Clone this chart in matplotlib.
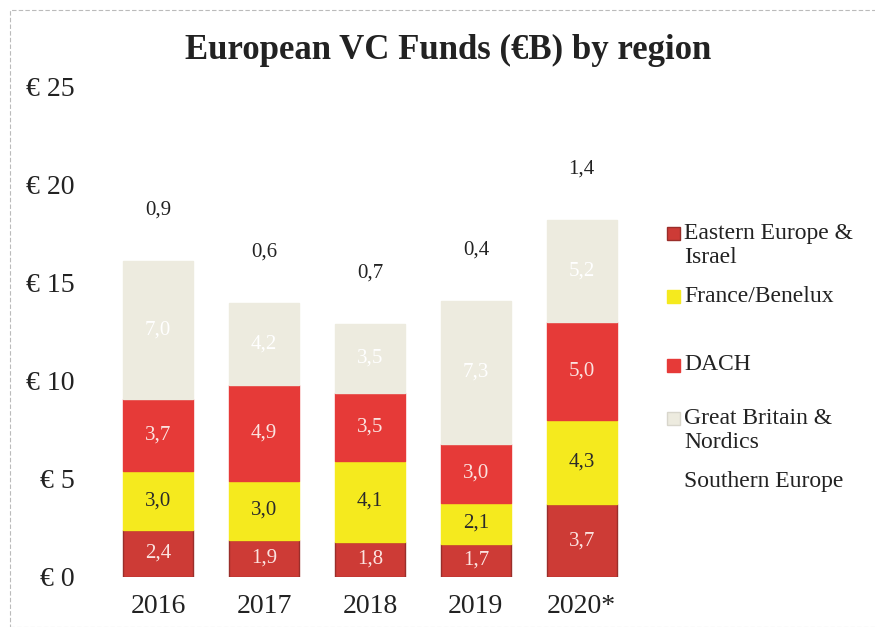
import numpy as np
import matplotlib
matplotlib.use("Agg")
import matplotlib.pyplot as plt
from matplotlib.patches import Rectangle

plt.rcParams['font.family'] = ['Liberation Serif', 'DejaVu Serif']

years = ["2016", "2017", "2018", "2019", "2020*"]
eastern = [2.4, 1.9, 1.8, 1.7, 3.7]
france = [3.0, 3.0, 4.1, 2.1, 4.3]
dach = [3.7, 4.9, 3.5, 3.0, 5.0]
gb_nordics = [7.0, 4.2, 3.5, 7.3, 5.2]
southern = [0.9, 0.6, 0.7, 0.4, 1.4]

series = [eastern, france, dach, gb_nordics]
colors = ["#cd3b36", "#f5ea1e", "#e63a38", "#edebdf"]
edges = ["#9a2e2a", "#f5ea1e", "#e63a38", "#edebdf"]
text_colors = ["#fbe3e0", "#2a2a2a", "#fbe3e0", "#ffffff"]
legend_names = ["Eastern Europe &\nIsrael", "France/Benelux", "DACH",
                "Great Britain &\nNordics", "Southern Europe"]

fig = plt.figure(figsize=(8.75, 6.27), dpi=100)
ax = fig.add_axes([100 / 875, 1 - 577 / 627, 540 / 875, 490 / 627])

x = np.arange(len(years))
bottom = np.zeros(len(years))
for vals, c, ec, tc in zip(series, colors, edges, text_colors):
    vals = np.array(vals)
    ax.bar(x, vals, width=0.66, bottom=bottom, color=c, edgecolor=ec, linewidth=1)
    for xi, b, v in zip(x, bottom, vals):
        ax.text(xi, b + v / 2, f"{v:.1f}".replace(".", ","), ha="center", va="center",
                fontsize=15, color=tc)
    bottom = bottom + vals

# southern europe: invisible segment, value shown above the bar
for xi, b, v in zip(x, bottom, southern):
    ax.text(xi, b + 2.6, f"{v:.1f}".replace(".", ","), ha="center", va="center",
            fontsize=15, color="#222222")

ax.set_xlim(-0.55, 4.55)
ax.set_ylim(0, 25)
ax.set_yticks([0, 5, 10, 15, 20, 25])
ax.set_yticklabels([f"€ {v}" for v in [0, 5, 10, 15, 20, 25]], fontsize=20, color="#222222")
ax.set_xticks(x)
ax.set_xticklabels(years, fontsize=20, color="#222222")
ax.tick_params(axis="both", length=0)
ax.tick_params(axis="y", pad=18)
ax.tick_params(axis="x", pad=12)
for s in ax.spines.values():
    s.set_visible(False)

fig.text(448 / 875, 1 - 50 / 627, "European VC Funds (€B) by region", ha="center", va="center",
         fontsize=25, fontweight="bold", color="#222222")

# legend drawn by hand to keep the uneven spacing
leg_y = [233, 296, 365, 418, 481]
for name, yy, c, ec in zip(legend_names, leg_y, colors + [None], edges + [None]):
    if c is not None:
        fig.add_artist(Rectangle((667 / 875, 1 - (yy + 7) / 627), 13 / 875, 13 / 627,
                                 transform=fig.transFigure, facecolor=c,
                                 edgecolor=ec if c != colors[3] else "#d8d6cc", linewidth=1))
    if "\n" in name:
        fig.text(684 / 875, 1 - (yy - 10) / 627, name, ha="left", va="top",
                 fontsize=17, color="#222222", linespacing=1.2)
    else:
        fig.text(684 / 875, 1 - yy / 627, name, ha="left", va="center",
                 fontsize=17, color="#222222")

# faint frame around the figure
fig.add_artist(Rectangle((10 / 875, 0), 1, 1 - 10 / 627, transform=fig.transFigure,
                         fill=False, edgecolor="#bbbbbb", linewidth=0.8, linestyle=(0, (4, 2))))

fig.savefig("out.png", dpi=100)
